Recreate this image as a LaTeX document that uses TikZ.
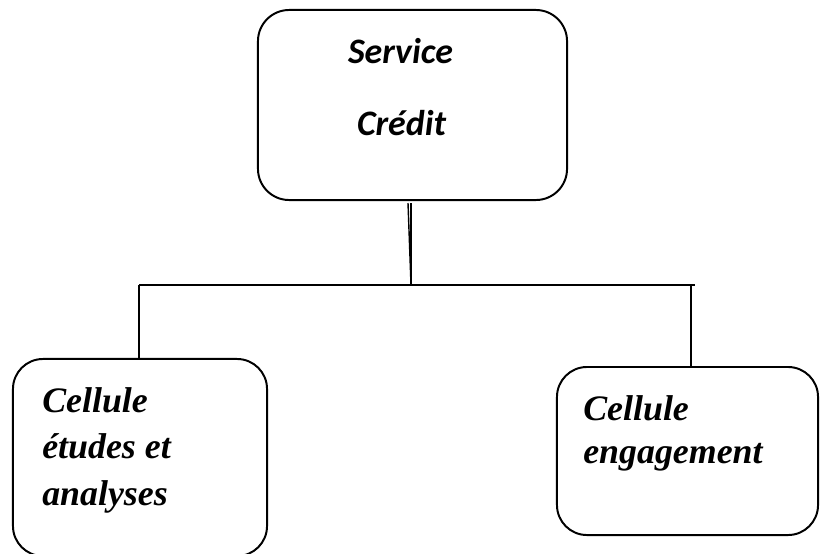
\documentclass[tikz,border=0pt]{standalone}
\usepackage{fontspec}
\setmainfont{Liberation Serif}
\newfontfamily\calibri{Carlito}
\usetikzlibrary{positioning,calc}

\begin{document}
\begin{tikzpicture}[x=0.025cm, y=-0.025cm, every node/.style={inner sep=0pt}]
        % one unit = one pixel, y going down
        \useasboundingbox (0,0) rectangle (820,553);

        \tikzset{
            unitbox/.style={draw, line width=1.4pt, rounded corners=0.78cm},
            headtext/.style={font=\calibri\fontsize{25.5}{30}\selectfont\bfseries\itshape, anchor=base},
            celltext/.style={font=\fontsize{25.5}{30}\selectfont\bfseries\itshape, anchor=base west},
            link/.style={line width=1.4pt}
        }

        % Head of the service
        \node[unitbox, minimum width=7.725cm, minimum height=4.75cm] (service) at (412.5,105) {};
        \node[headtext] (svc1) at (400.5,63) {Service};
        \node[headtext] (svc2) at (401.5,135) {Crédit};

        % Cells below
        \node[unitbox, minimum width=6.35cm, minimum height=4.925cm, rounded corners=0.75cm] (etudes) at (140,457.5) {};
        \node[celltext] (et1) at (42,412) {Cellule};
        \node[celltext] (et2) at (42,458) {études et};
        \node[celltext] (et3) at (42,505) {analyses};

        \node[unitbox, minimum width=6.525cm, minimum height=4.2cm, rounded corners=0.75cm] (engag) at (687.5,451) {};
        \node[celltext] (en1) at (583,420) {Cellule};
        \node[celltext] (en2) at (583,463) {engagement};

        % Branch lines
        \coordinate (mid) at (411,285);
        \coordinate (lj) at (139,285);
        \coordinate (rj) at (691,285);
        \coordinate (rend) at (695,285);
        \draw[link, line width=1pt] ($(service.south)+(-4.5,2)$) -- (mid);
        \draw[link, line width=1pt] ($(service.south)+(-1.5,2)$) -- (mid);
        \draw[link] (lj) -- (rend);
        \draw[link] (lj) -- (lj |- etudes.north);
        \draw[link] (rj) -- (rj |- engag.north);
\end{tikzpicture}
\end{document}
